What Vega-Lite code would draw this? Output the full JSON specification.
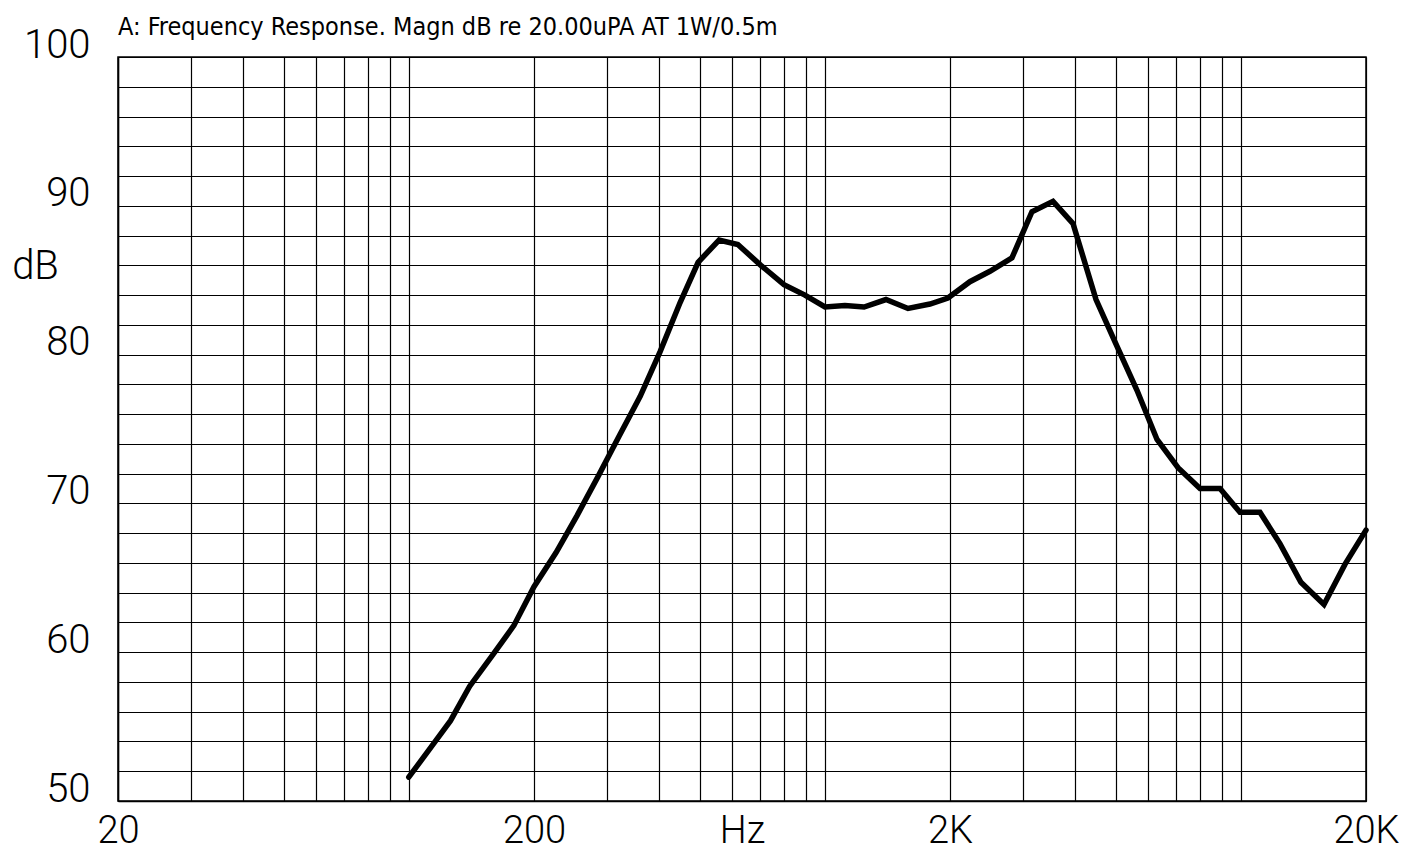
{
  "$schema": "https://vega.github.io/schema/vega-lite/v6.json",
  "autosize": {"type": "none"},
  "padding": {"left": 118, "top": 57, "right": 57, "bottom": 52},
  "width": 1248,
  "height": 744,
  "background": "white",
  "config": {
    "view": {"stroke": "black", "strokeWidth": 1.5},
    "axis": {"labelFont": "Roboto", "labelFontWeight": 300, "titleFont": "Roboto", "titleFontWeight": 300}
  },
  "title": {
    "text": "A: Frequency Response. Magn dB re 20.00uPA  AT 1W/0.5m",
    "font": "Liberation Sans Narrow, DejaVu Sans Condensed, sans-serif",
    "fontSize": 25,
    "fontWeight": "normal",
    "color": "black",
    "anchor": "start",
    "frame": "group",
    "baseline": "alphabetic",
    "offset": -35
  },
  "data": {
    "values": [
      {"freq": 100, "db": 51.6},
      {"freq": 113, "db": 53.6},
      {"freq": 126, "db": 55.4},
      {"freq": 140, "db": 57.7},
      {"freq": 159, "db": 59.8},
      {"freq": 179, "db": 61.8},
      {"freq": 200, "db": 64.4},
      {"freq": 226, "db": 66.7},
      {"freq": 254, "db": 69.2},
      {"freq": 285, "db": 71.8},
      {"freq": 320, "db": 74.5},
      {"freq": 360, "db": 77.2},
      {"freq": 402, "db": 80.2},
      {"freq": 449, "db": 83.5},
      {"freq": 496, "db": 86.2},
      {"freq": 557, "db": 87.7},
      {"freq": 618, "db": 87.4},
      {"freq": 702, "db": 86.0},
      {"freq": 798, "db": 84.7},
      {"freq": 896, "db": 84.0},
      {"freq": 1001, "db": 83.2},
      {"freq": 1118, "db": 83.3},
      {"freq": 1243, "db": 83.2},
      {"freq": 1403, "db": 83.7},
      {"freq": 1585, "db": 83.1},
      {"freq": 1790, "db": 83.4},
      {"freq": 1977, "db": 83.8},
      {"freq": 2233, "db": 84.9},
      {"freq": 2495, "db": 85.6},
      {"freq": 2818, "db": 86.5},
      {"freq": 3148, "db": 89.6},
      {"freq": 3537, "db": 90.3},
      {"freq": 3952, "db": 88.8},
      {"freq": 4488, "db": 83.7},
      {"freq": 5013, "db": 80.7},
      {"freq": 5630, "db": 77.6},
      {"freq": 6290, "db": 74.3},
      {"freq": 7066, "db": 72.4},
      {"freq": 7980, "db": 71.0},
      {"freq": 8914, "db": 71.0},
      {"freq": 9957, "db": 69.4},
      {"freq": 11120, "db": 69.4},
      {"freq": 12420, "db": 67.3},
      {"freq": 13950, "db": 64.7},
      {"freq": 15850, "db": 63.2},
      {"freq": 17800, "db": 65.9},
      {"freq": 20000, "db": 68.2}
    ]
  },
  "mark": {"type": "line", "color": "black", "strokeWidth": 5.5, "strokeCap": "round", "strokeJoin": "miter"},
  "encoding": {
    "x": {
      "field": "freq",
      "type": "quantitative",
      "scale": {"type": "log", "domain": [20, 20000], "nice": false},
      "axis": {
        "title": "Hz",
        "titleFontSize": 38,
        "titleColor": "black",
        "titleBaseline": "alphabetic",
        "titleY": 41,
        "values": [20, 30, 40, 50, 60, 70, 80, 90, 100, 200, 300, 400, 500, 600, 700, 800, 900, 1000, 2000, 3000, 4000, 5000, 6000, 7000, 8000, 9000, 10000, 20000],
        "labelExpr": "datum.value == 20 ? '20' : datum.value == 200 ? '200' : datum.value == 2000 ? '2K' : datum.value == 20000 ? '20K' : ''",
        "labelFontSize": 38,
        "labelColor": "black",
        "labelBaseline": "alphabetic",
        "labelPadding": 41,
        "labelOverlap": false,
        "labelFlush": false,
        "labelBound": false,
        "ticks": false,
        "grid": true,
        "gridColor": "black",
        "gridOpacity": 1,
        "gridWidth": 1.2,
        "domainColor": "black",
        "domainWidth": 1.5
      }
    },
    "y": {
      "field": "db",
      "type": "quantitative",
      "scale": {"domain": [50, 100], "nice": false, "zero": false},
      "axis": {
        "title": "dB",
        "titleAngle": 0,
        "titleFontSize": 40,
        "titleColor": "black",
        "titleAlign": "center",
        "titleBaseline": "middle",
        "titleX": -83,
        "titleY": 209,
        "values": [50, 52, 54, 56, 58, 60, 62, 64, 66, 68, 70, 72, 74, 76, 78, 80, 82, 84, 86, 88, 90, 92, 94, 96, 98, 100],
        "labelExpr": "datum.value % 10 == 0 ? datum.label : ''",
        "labelFontSize": 40,
        "labelColor": "black",
        "labelBaseline": "alphabetic",
        "labelAlign": "right",
        "labelPadding": 28,
        "labelOverlap": false,
        "labelFlush": false,
        "labelBound": false,
        "ticks": false,
        "grid": true,
        "gridColor": "black",
        "gridOpacity": 1,
        "gridWidth": 1.2,
        "domainColor": "black",
        "domainWidth": 1.5
      }
    }
  }
}
